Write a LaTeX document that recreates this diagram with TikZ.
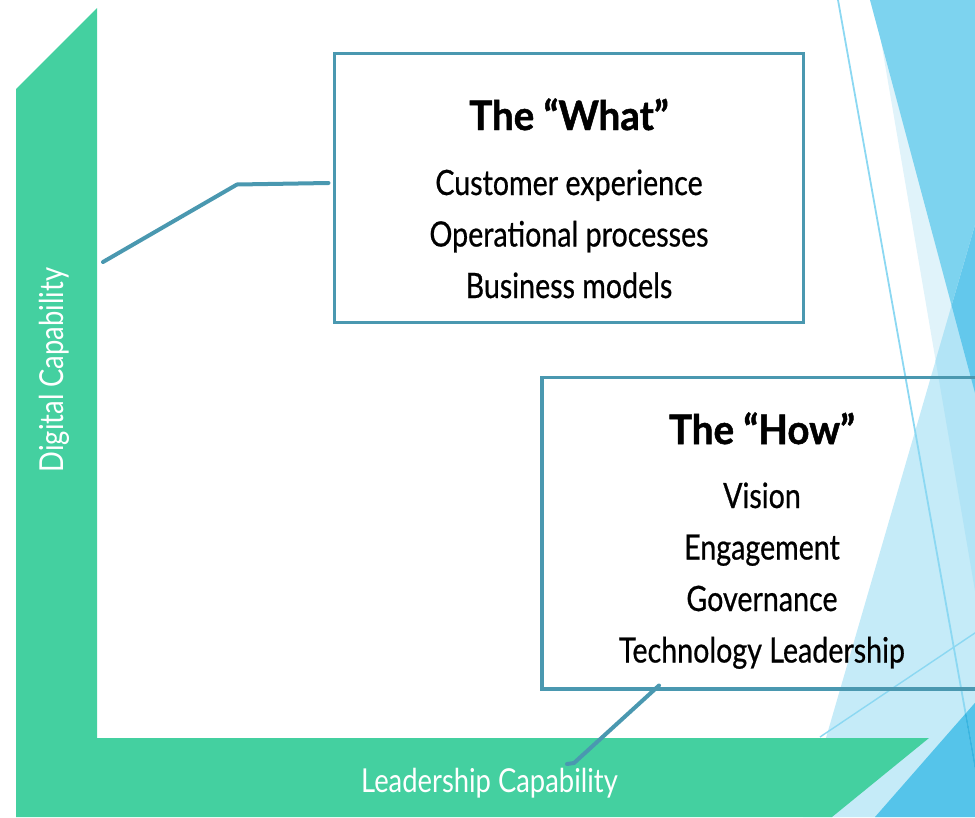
\documentclass[tikz,border=0pt]{standalone}
\usepackage{fontspec}
\setmainfont{Lato}
\newfontfamily\bodyfont[FakeStretch=0.82,FakeBold=0.6]{Lato}
\newfontfamily\axisfont[FakeStretch=0.83]{Lato}
\newfontfamily\headfont[FakeStretch=0.95,FakeBold=1.2]{Lato}
\definecolor{gr}{RGB}{68,208,160}
\definecolor{boxblue}{RGB}{74,152,176}
\definecolor{blA}{RGB}{125,211,239}
\definecolor{blB}{RGB}{224,243,250}
\definecolor{blC}{RGB}{197,235,248}
\definecolor{blAC}{RGB}{99,200,236}
\definecolor{blBC}{RGB}{178,228,246}
\definecolor{blD}{RGB}{85,196,234}
\definecolor{cThin}{RGB}{140,216,242}
\definecolor{cThinD}{RGB}{58,181,224}
\begin{document}
\begin{tikzpicture}[x=1pt,y=-1pt,
  box/.style={draw=boxblue,line width=3.2pt,inner sep=0pt,fill=none},
  conn/.style={draw=boxblue,line width=4pt,line cap=round,line join=round},
  headtxt/.style={anchor=base,font=\headfont\bfseries\fontsize{40.5}{44}\selectfont,text=black},
  bodytxt/.style={anchor=base,font=\bodyfont\fontsize{34.9}{40}\selectfont,text=black},
  axistxt/.style={anchor=base,font=\axisfont\fontsize{33}{38}\selectfont,text=white},
  thinline/.style={draw=cThin,line width=1.8pt}]
\useasboundingbox (0,0) rectangle (975,817);
\begin{scope}
  \clip (0,0) rectangle (975,817);
  % right-side facets
  \fill[blB] (874,0) -- (1100,0) -- (1100,1322) -- cycle;
  \fill[blA] (870,0) -- (1100,0) -- (1100,861) -- cycle;
  \fill[blC] (803,817) -- (1100,-205) -- (1100,817) -- cycle;
  \begin{scope}
    \clip (803,817) -- (1100,-205) -- (1100,817) -- cycle;
    \fill[blBC] (874,0) -- (1100,0) -- (1100,1322) -- cycle;
    \fill[blAC] (870,0) -- (1100,0) -- (1100,861) -- cycle;
  \end{scope}
  \fill[blD] (875,817) -- (1100,560) -- (1100,817) -- cycle;
  \draw[thinline] (838,0) -- (990,850);
  \begin{scope}
    \clip (875,817) -- (1100,560) -- (1100,817) -- cycle;
    \draw[thinline,draw=cThinD] (838,0) -- (990,850);
  \end{scope}
  \draw[thinline,line width=1.4pt] (820,737) -- (1100,549);
  % green L
  \fill[gr] (16,89) -- (97,8) -- (97,738) -- (929,738) -- (832,817) -- (16,817) -- cycle;
  % boxes
  \node[box,minimum width=468.5,minimum height=269] (what) at (569,188) {};
  \node[box,minimum width=469,minimum height=311.5] (how) at (776.5,533.25) {};
\end{scope}
% texts
\node[headtxt] (whatT) at (569,130) {The “What”};
\node[bodytxt] (w1) at (569,195) {Customer experience};
\node[bodytxt] (w2) at (569,246.5) {Operational processes};
\node[bodytxt] (w3) at (569,298) {Business models};
\node[headtxt] (howT) at (762,444) {The “How”};
\node[bodytxt] (h1) at (762,508) {Vision};
\node[bodytxt] (h2) at (762,559.5) {Engagement};
\node[bodytxt] (h3) at (762,611) {Governance};
\node[bodytxt] (h4) at (762,662.5) {Technology Leadership};
\node[axistxt] (lead) at (489.5,792) {Leadership Capability};
\node[axistxt,rotate=90] (digi) at (63,370) {Digital Capability};
% connectors
\coordinate (c1s) at (103,262);
\coordinate (c1m) at (237,184.5);
\coordinate (c1e) at (328.5,183);
\draw[conn] (c1s) -- (c1m) -- (c1e);
\coordinate (c2s) at (659,685.5);
\coordinate (c2m) at (574,763);
\coordinate (c2e) at (567,764);
\draw[conn] (c2s) -- (c2m) -- (c2e);
\end{tikzpicture}
\end{document}
